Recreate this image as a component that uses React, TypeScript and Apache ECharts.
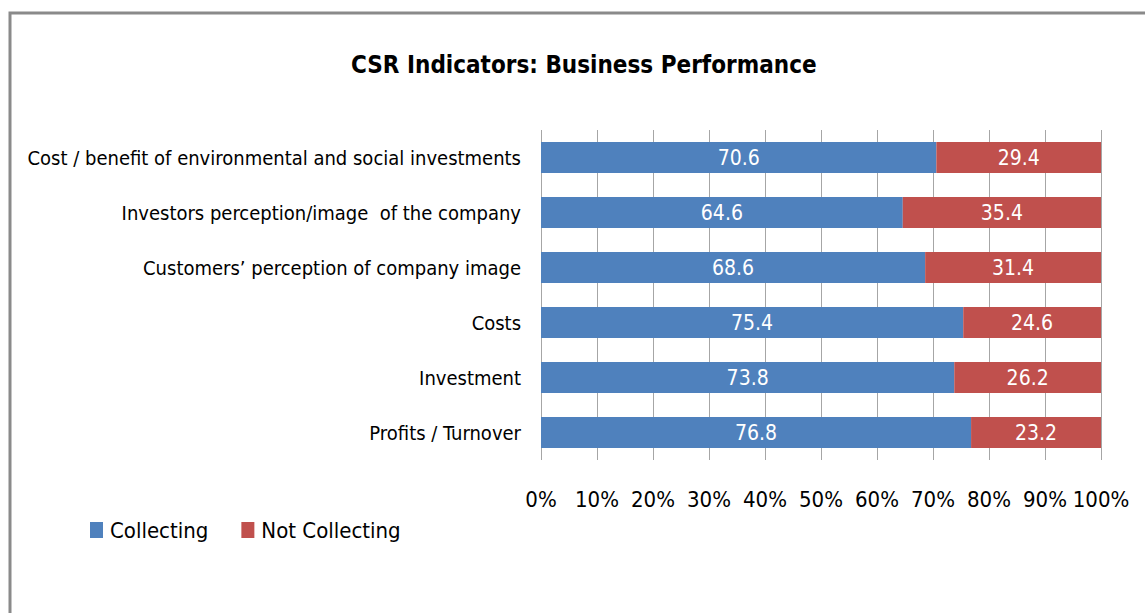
import React, { useEffect, useRef } from "react";
import * as echarts from "echarts";

const categories = [
  "Cost / benefit of environmental and social investments",
  "Investors perception/image  of the company",
  "Customers’ perception of company image",
  "Costs",
  "Investment",
  "Profits / Turnover",
];
const collecting = [70.6, 64.6, 68.6, 75.4, 73.8, 76.8];
const notCollecting = [29.4, 35.4, 31.4, 24.6, 26.2, 23.2];
const seriesNames = ["Collecting", "Not Collecting"];
const titleText = "CSR Indicators: Business Performance";

const FONT = "'Liberation Sans Narrow', 'DejaVu Sans Condensed', 'Noto Sans', sans-serif";

export default function App() {
  const ref = useRef<HTMLDivElement>(null);
  useEffect(() => {
    document.body.style.margin = "0";
    const chart = echarts.init(ref.current!, null, { renderer: "svg" });
    const labelStyle = {
      show: true,
      position: "inside" as const,
      color: "#ffffff",
      fontSize: 21,
      fontFamily: FONT,
      formatter: (p: any) => p.value.toFixed(1),
    };
    chart.setOption({
      animation: false,
      backgroundColor: "#ffffff",
      title: {
        text: titleText,
        left: 346,
        top: 48,
        textStyle: { fontFamily: FONT, fontSize: 24, fontWeight: "bold", color: "#000" },
      },
      legend: {
        left: 85,
        top: 514,
        itemWidth: 13,
        itemHeight: 16,
        itemGap: 33,
        icon: "rect",
        textStyle: { fontFamily: FONT, fontSize: 22, color: "#000", padding: [0, 0, 0, 2] },
        data: seriesNames,
      },
      graphic: [
        {
          type: "rect",
          shape: { x: 10, y: 13, width: 1300, height: 800 },
          style: { fill: "none", stroke: "#8a8a8a", lineWidth: 3 },
          silent: true,
        },
      ],
      grid: { left: 541, right: 44, top: 130, bottom: 153, containLabel: false },
      xAxis: {
        type: "value",
        min: 0,
        max: 100,
        interval: 10,
        axisLine: { show: false },
        axisTick: { show: false },
        splitLine: { show: true, lineStyle: { color: "#a6a6a6", width: 1 } },
        axisLabel: {
          formatter: "{value}%",
          margin: 28,
          fontFamily: FONT,
          fontSize: 22,
          color: "#000",
        },
      },
      yAxis: {
        type: "category",
        inverse: true,
        data: categories,
        axisLine: { show: false },
        axisTick: { show: false },
        axisLabel: { margin: 20, fontFamily: FONT, fontSize: 20, color: "#000" },
      },
      series: [
        {
          name: seriesNames[0],
          type: "bar",
          stack: "total",
          barWidth: "56%",
          data: collecting,
          itemStyle: { color: "#4F81BD" },
          label: labelStyle,
        },
        {
          name: seriesNames[1],
          type: "bar",
          stack: "total",
          barWidth: "56%",
          data: notCollecting,
          itemStyle: { color: "#C0504D" },
          label: labelStyle,
        },
      ],
    });
    return () => chart.dispose();
  }, []);
  return (
    <div
      ref={ref}
      style={{ position: "absolute", left: 0, top: 0, width: 1145, height: 613 }}
    />
  );
}
